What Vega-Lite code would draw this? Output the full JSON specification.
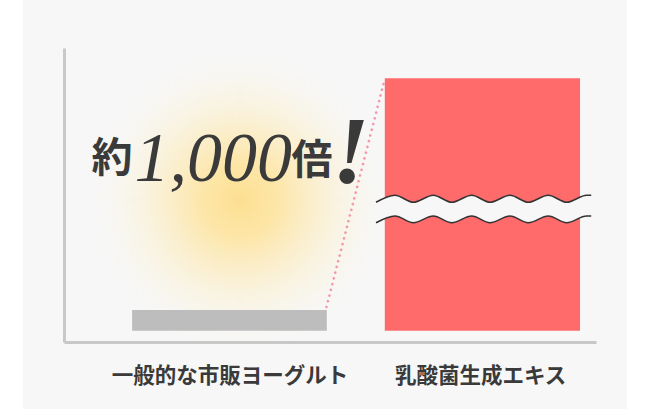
{
  "$schema": "https://vega.github.io/schema/vega-lite/v6.json",
  "width": 532,
  "height": 294,
  "autosize": {"type": "none"},
  "padding": {"left": 64, "top": 48, "right": 54, "bottom": 67},
  "background": "#ffffff",
  "config": {"view": {"stroke": null}},
  "datasets": {
    "panel": [{"x0": -7.7, "x1": 105.8, "y0": -27.7, "y1": 117}],
    "glow": [{"x": 33.1, "y": 46.2}],
    "bars": [
      {"item": "一般的な市販ヨーグルト", "x0": 12.8, "x1": 49.4, "v": 7.3},
      {"item": "乳酸菌生成エキス", "x0": 60.3, "x1": 97.0, "v": 89.3}
    ],
    "wave": [
      {"wx": 58.65, "top": 45.42, "bot": 38.2},
      {"wx": 62.22, "top": 47.93, "bot": 40.57},
      {"wx": 65.66, "top": 45.42, "bot": 38.2},
      {"wx": 69.42, "top": 47.93, "bot": 40.57},
      {"wx": 72.88, "top": 45.42, "bot": 38.2},
      {"wx": 76.64, "top": 47.93, "bot": 40.57},
      {"wx": 80.08, "top": 45.42, "bot": 38.2},
      {"wx": 83.83, "top": 47.93, "bot": 40.57},
      {"wx": 87.27, "top": 45.42, "bot": 38.2},
      {"wx": 91.03, "top": 47.93, "bot": 40.57},
      {"wx": 94.49, "top": 45.42, "bot": 38.2},
      {"wx": 98.25, "top": 47.93, "bot": 40.57},
      {"wx": 99.1, "top": 47.93, "bot": 40.57}
    ],
    "link": [{"x": 49.34, "y": 8.38, "x2": 60.24, "y2": 88.68}],
    "cjk": [
      {"t": "約", "x": 9.0, "y": 60.4},
      {"t": "倍", "x": 46.6, "y": 59.8}
    ],
    "num": [{"t": "1,000", "x": 28.07, "y": 53.1}],
    "bang": [{"t": "!", "x": 53.9, "y": 52.35}],
    "labels": [
      {"t": "一般的な市販ヨーグルト", "x": 31.2, "y": -16.4},
      {"t": "乳酸菌生成エキス", "x": 78.3, "y": -16.4}
    ]
  },
  "layer": [
    {
      "data": {"name": "panel"},
      "mark": {"type": "rect", "fill": "#f7f7f7", "clip": false},
      "encoding": {
        "x": {"field": "x0", "type": "quantitative", "title": null, "scale": {"domain": [0, 100], "nice": false, "zero": false}},
        "x2": {"field": "x1"},
        "y": {"field": "y0", "type": "quantitative", "title": null, "scale": {"domain": [-4, 100], "nice": false, "zero": false}},
        "y2": {"field": "y1"}
      }
    },
    {
      "data": {"name": "glow"},
      "mark": {
        "type": "point", "shape": "circle", "filled": true, "size": 95000, "opacity": 1, "strokeWidth": 0,
        "fill": {
          "gradient": "radial", "x1": 0.5, "y1": 0.5, "r1": 0, "x2": 0.5, "y2": 0.5, "r2": 0.5,
          "stops": [
            {"offset": 0, "color": "rgba(253,223,145,1)"},
            {"offset": 0.25, "color": "rgba(253,228,160,0.9)"},
            {"offset": 0.5, "color": "rgba(252,235,188,0.65)"},
            {"offset": 0.75, "color": "rgba(250,242,215,0.35)"},
            {"offset": 1, "color": "rgba(247,247,247,0)"}
          ]
        }
      },
      "encoding": {
        "x": {"field": "x", "type": "quantitative", "title": null, "scale": {"domain": [0, 100], "nice": false, "zero": false}},
        "y": {"field": "y", "type": "quantitative", "title": null, "scale": {"domain": [-4, 100], "nice": false, "zero": false}}
      }
    },
    {
      "data": {"name": "bars"},
      "mark": {"type": "rect"},
      "encoding": {
        "x": {"field": "x0", "type": "quantitative", "title": null, "scale": {"domain": [0, 100], "nice": false, "zero": false},
              "axis": {"domain": true, "domainColor": "#c8c8c8", "domainWidth": 3, "ticks": false, "labels": false, "grid": false, "zindex": 1}},
        "x2": {"field": "x1"},
        "y": {"field": "v", "type": "quantitative", "title": null, "scale": {"domain": [-4, 100], "nice": false, "zero": false},
              "axis": {"domain": true, "domainColor": "#c8c8c8", "domainWidth": 3, "ticks": false, "labels": false, "grid": false, "zindex": 1}},
        "y2": {"datum": 0},
        "color": {"field": "item", "type": "nominal", "scale": {"domain": ["一般的な市販ヨーグルト", "乳酸菌生成エキス"], "range": ["#bdbdbd", "#ff6b6b"]}, "legend": null}
      }
    },
    {
      "data": {"name": "wave"},
      "mark": {"type": "area", "interpolate": "monotone", "fill": "#f7f7f7", "opacity": 1, "clip": false},
      "encoding": {
        "x": {"field": "wx", "type": "quantitative", "title": null, "scale": {"domain": [0, 100], "nice": false, "zero": false}},
        "y": {"field": "top", "type": "quantitative", "title": null, "scale": {"domain": [-4, 100], "nice": false, "zero": false}},
        "y2": {"field": "bot"}
      }
    },
    {
      "data": {"name": "wave"},
      "mark": {"type": "line", "interpolate": "monotone", "stroke": "#333333", "strokeWidth": 1.6, "clip": false},
      "encoding": {
        "x": {"field": "wx", "type": "quantitative", "title": null, "scale": {"domain": [0, 100], "nice": false, "zero": false}},
        "y": {"field": "top", "type": "quantitative", "title": null, "scale": {"domain": [-4, 100], "nice": false, "zero": false}}
      }
    },
    {
      "data": {"name": "wave"},
      "mark": {"type": "line", "interpolate": "monotone", "stroke": "#333333", "strokeWidth": 1.6, "clip": false},
      "encoding": {
        "x": {"field": "wx", "type": "quantitative", "title": null, "scale": {"domain": [0, 100], "nice": false, "zero": false}},
        "y": {"field": "bot", "type": "quantitative", "title": null, "scale": {"domain": [-4, 100], "nice": false, "zero": false}}
      }
    },
    {
      "data": {"name": "link"},
      "mark": {"type": "rule", "stroke": "#f497ad", "strokeWidth": 2.6, "strokeCap": "round", "strokeDash": [0.1, 5.8]},
      "encoding": {
        "x": {"field": "x", "type": "quantitative", "title": null, "scale": {"domain": [0, 100], "nice": false, "zero": false}},
        "y": {"field": "y", "type": "quantitative", "title": null, "scale": {"domain": [-4, 100], "nice": false, "zero": false}},
        "x2": {"field": "x2"},
        "y2": {"field": "y2"}
      }
    },
    {
      "data": {"name": "cjk"},
      "mark": {"type": "text", "font": "Noto Sans CJK JP", "fontWeight": "bold", "fontSize": 41, "color": "#3a3a3a", "align": "center", "baseline": "middle"},
      "encoding": {
        "x": {"field": "x", "type": "quantitative", "title": null, "scale": {"domain": [0, 100], "nice": false, "zero": false}},
        "y": {"field": "y", "type": "quantitative", "title": null, "scale": {"domain": [-4, 100], "nice": false, "zero": false}},
        "text": {"field": "t"}
      }
    },
    {
      "data": {"name": "num"},
      "mark": {"type": "text", "font": "Liberation Serif", "fontStyle": "italic", "fontSize": 70, "color": "#3a3a3a", "align": "center", "baseline": "alphabetic"},
      "encoding": {
        "x": {"field": "x", "type": "quantitative", "title": null, "scale": {"domain": [0, 100], "nice": false, "zero": false}},
        "y": {"field": "y", "type": "quantitative", "title": null, "scale": {"domain": [-4, 100], "nice": false, "zero": false}},
        "text": {"field": "t"}
      }
    },
    {
      "data": {"name": "bang"},
      "mark": {"type": "text", "font": "Liberation Serif", "fontStyle": "italic", "fontWeight": "bold", "fontSize": 96, "color": "#3a3a3a", "align": "center", "baseline": "alphabetic"},
      "encoding": {
        "x": {"field": "x", "type": "quantitative", "title": null, "scale": {"domain": [0, 100], "nice": false, "zero": false}},
        "y": {"field": "y", "type": "quantitative", "title": null, "scale": {"domain": [-4, 100], "nice": false, "zero": false}},
        "text": {"field": "t"}
      }
    },
    {
      "data": {"name": "labels"},
      "mark": {"type": "text", "font": "Noto Sans CJK JP", "fontWeight": "bold", "fontSize": 21.5, "color": "#3a3a3a", "align": "center", "baseline": "middle"},
      "encoding": {
        "x": {"field": "x", "type": "quantitative", "title": null, "scale": {"domain": [0, 100], "nice": false, "zero": false}},
        "y": {"field": "y", "type": "quantitative", "title": null, "scale": {"domain": [-4, 100], "nice": false, "zero": false}},
        "text": {"field": "t"}
      }
    }
  ]
}
